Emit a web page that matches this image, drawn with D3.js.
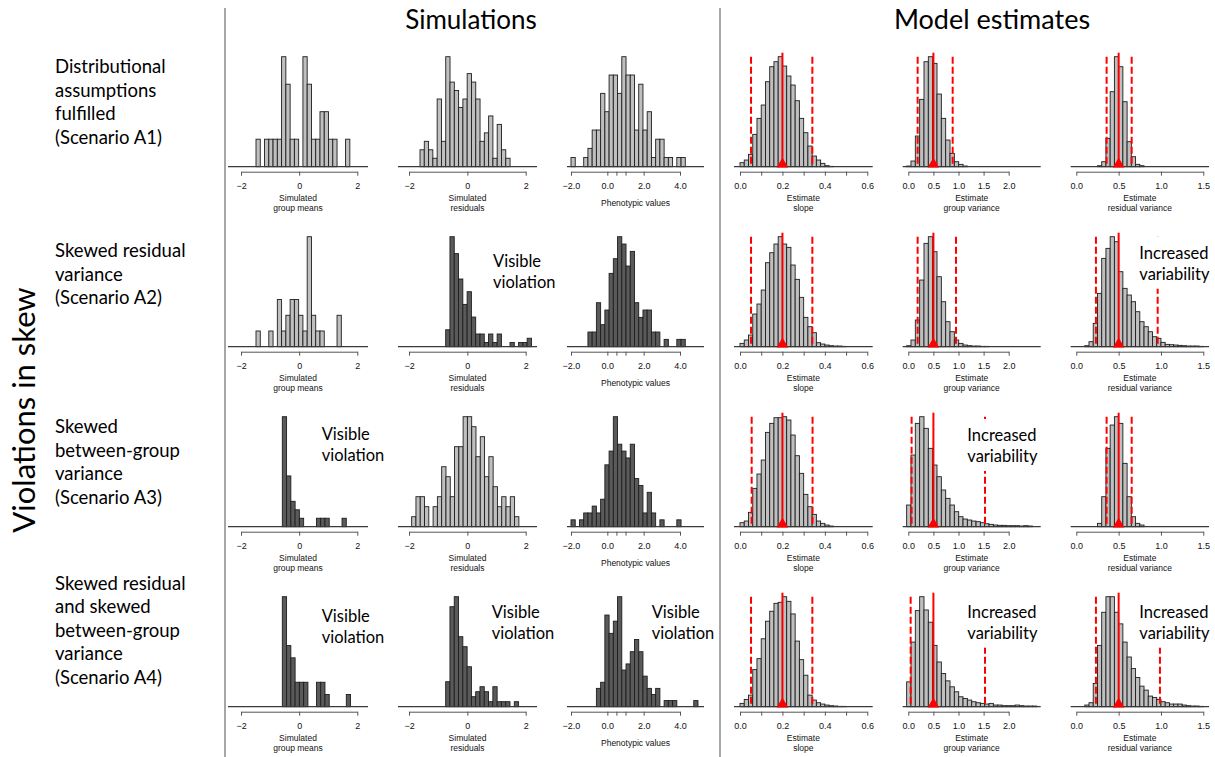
<!DOCTYPE html>
<html>
<head>
<meta charset="utf-8">
<script src="https://cdn.jsdelivr.net/npm/d3@7"></script>
<style>
body { margin: 0; background: #fff; }
svg { display: block; }
.lab { font-family: Lato, "Noto Sans", sans-serif; fill: #000; }
.ax text { font-family: "Liberation Sans", Arial, sans-serif; font-size: 9px; fill: #111; }
.ax path, .ax line { stroke: #555; }
.xt { font-family: "Liberation Sans", Arial, sans-serif; font-size: 8.5px; fill: #111; }
</style>
</head>
<body>
<svg id="chart" width="1215" height="757"></svg>
<script>
// ---------- data ----------
const rowLabels = [
  ["Distributional", "assumptions", "fulfilled", "(Scenario A1)"],
  ["Skewed residual", "variance", "(Scenario A2)"],
  ["Skewed", "between-group", "variance", "(Scenario A3)"],
  ["Skewed residual", "and skewed", "between-group", "variance", "(Scenario A4)"]
];
const blockTitles = ["Simulations", "Model estimates"];
const sideTitle = "Violations in skew";

const axisTitles = [
  ["Simulated", "group means"], ["Simulated", "residuals"], ["Phenotypic values"],
  ["Estimate", "slope"], ["Estimate", "group variance"], ["Estimate", "residual variance"]
];
const tickVals = [
  [-2, 0, 2], [-2, 0, 2], [-2, 0, 0.5, 1, 2, 4],
  [0, 0.1, 0.2, 0.3, 0.4, 0.5, 0.6], [0, 0.5, 1, 1.5, 2], [0, 0.5, 1, 1.5]
];
const tickText = [
  ["\u22122", "0", "2"], ["\u22122", "0", "2"], ["\u22122.0", "0.0", "", "", "2.0", "4.0"],
  ["0.0", "", "0.2", "", "0.4", "", "0.6"], ["0.0", "0.5", "1.0", "1.5", "2.0"], ["0.0", "0.5", "1.0", "1.5"]
];
const binWidth = [0.1467, 0.147, 0.233, 0.02, 0.0864, 0.05];

// simulated group means (counts), one array per scenario
const groupMeanCounts = [
  [1,0,1,1,1,1,4,3,1,1,0,4,3,1,1,2,2,1,1,0,0,1],
  [1,0,0,1,0,3,1,2,3,3,2,1,7,2,1,1,0,0,0,2],
  [13,6,3,2,1,0,0,0,1,1,1,0,0,0,1],
  [9,5,4,2,2,2,0,0,2,2,1,0,0,0,0,1]
];
const groupMeanStart = [-1.484, -1.484, -0.579, -0.579];

// simulated residuals
const residualCounts = [
  [2,3,2,1,8,3,13,10,9,7,8,11,10,8,3,4,6,1,5,2,1],
  [4,26,22,16,10,13,7,3,3,1,3,1,3,0,0,1,0,1,1,2],
  [1,3,3,2,0,2,3,6,5,3,8,8,11,11,10,7,9,5,7,4,2,3,2,3,1],
  [5,20,22,14,12,8,2,3,4,3,1,4,1,1,1,0,1]
];
const residualStart = [-1.623, -0.743, -1.909, -0.743];

// phenotypic values
const phenoCounts = [
  [1,0,0,1,2,4,4,8,6,10,10,8,12,10,10,4,9,4,6,1,3,3,1,1,0,1,1],
  [0,0,0,0,2,2,6,3,5,10,12,15,14,11,13,6,4,5,5,2,2,0,1,0,0,1,1],
  [1,0,1,2,2,3,2,4,9,11,16,12,11,10,12,7,6,2,5,2,0,1,0,0,0,1],
  [0,0,0,0,0,0,3,4,15,12,14,18,6,7,9,11,9,5,3,2,3,0,1,1,1,0,0,0,0,1]
];
const phenoStart = [-2, -2, -2, -2];

// model estimates (relative frequencies)
const slopeFreq = [
  [12,20,37,97,145,185,255,300,315,330,302,272,245,198,145,102,62,32,20,10,3,1],
  [10,20,35,98,128,170,252,282,308,330,308,298,245,202,148,88,60,42,12,8,5,3,2,2,1],
  [12,17,43,115,158,200,283,310,327,327,330,320,275,213,160,97,60,37,17,10,5,2],
  [10,22,35,112,145,205,258,288,312,315,332,318,280,198,142,95,35,20,12,8,5,3,2,1,1]
];
const groupVarFreq = [
  [2,17,92,202,315,330,310,218,145,80,40,15,7,2],
  [3,20,80,200,310,330,285,210,135,75,45,20,10,5,3,2,2,1,1],
  [65,215,310,330,295,235,185,150,110,85,65,45,30,23,20,17,15,12,9,7,5,4,4,3,3,3,2,3,2],
  [75,195,290,332,292,255,185,135,100,78,60,45,30,25,20,15,12,10,8,10,5,5,3,3,3,5,3,2,2,2]
];
const residVarFreq = [
  [0,0,0,0,0,3,15,85,225,330,300,195,75,30,7,3],
  [0,0,3,15,70,160,265,295,330,315,225,175,155,135,105,75,60,45,30,25,13,7,6,5,4,3,2,2,2,1],
  [0,0,0,0,0,10,90,235,305,330,310,190,90,30,10,5],
  [0,0,5,12,70,185,285,332,332,285,250,195,150,115,88,62,50,32,28,22,15,12,8,8,8,5,3,2,2,1]
];
const slopeStart = 0, groupVarStart = -0.033, residVarStart = 0;

const trueValues = [0.2, 0.5, 0.5];
const slopeCI = [[0.052, 0.341], [0.052, 0.341], [0.055, 0.342], [0.052, 0.341]];
const groupVarCI = [[0.186, 0.884], [0.186, 0.95], [0.066, 1.528], [0.047, 1.528]];
const residVarCI = [[0.358, 0.654], [0.232, 0.961], [0.358, 0.654], [0.232, 0.988]];

// which simulated panels show a visible violation (dark bars)
const violated = [
  [false, false, false],
  [false, true, true],
  [true, false, true],
  [true, true, true]
];
const notes = [
  { row: 1, col: 1, text: ["Visible", "violation"] },
  { row: 2, col: 0, text: ["Visible", "violation"] },
  { row: 3, col: 0, text: ["Visible", "violation"] },
  { row: 3, col: 1, text: ["Visible", "violation"] },
  { row: 3, col: 2, text: ["Visible", "violation"] },
  { row: 1, col: 5, text: ["Increased", "variability"] },
  { row: 2, col: 4, text: ["Increased", "variability"] },
  { row: 3, col: 4, text: ["Increased", "variability"] },
  { row: 3, col: 5, text: ["Increased", "variability"] }
];

// ---------- layout ----------
const cols = [
  { dom: [-2, 2],   x0: 241,   x1: 357.3,  left: 228,    right: 368 },
  { dom: [-2, 2],   x0: 409,   x1: 525.7,  left: 398,    right: 537 },
  { dom: [-2, 4],   x0: 571,   x1: 680,    left: 567,    right: 704 },
  { dom: [0, 0.6],  x0: 740,   x1: 867.3,  left: 734,    right: 872.7 },
  { dom: [0, 2],    x0: 908.3, x1: 1008.7, left: 902.7,  right: 1040.7 },
  { dom: [0, 1.5],  x0: 1076.3,x1: 1203.3, left: 1070.7, right: 1209 }
];
const rowBase = r => 166.7 + 180 * r;
const barMax = 110;
const labelTop = [66.7, 250.7, 426.7, 583.3];
const noteXY = {
  "1-1": [493, 260.5], "2-0": [321.7, 434.3], "3-0": [321.7, 616], "3-1": [491.7, 612.3],
  "3-2": [651.7, 611.7], "1-5": [1139.3, 252.7], "2-4": [967.3, 435], "3-4": [967.3, 611.7],
  "3-5": [1139.3, 611.7]
};
const LIGHT = "#bfbfbf", DARK = "#5a5a5a", RED = "#ff0000";

const svg = d3.select("#chart");

// separators
[225, 720].forEach(x => svg.append("line")
  .attr("x1", x).attr("x2", x).attr("y1", 8).attr("y2", 757)
  .attr("stroke", "#8a8a8a").attr("stroke-width", 1.5));

// titles
svg.append("text").attr("class", "lab").attr("x", 471).attr("y", 29)
  .attr("text-anchor", "middle").attr("font-size", 26).text(blockTitles[0]);
svg.append("text").attr("class", "lab").attr("x", 992).attr("y", 29)
  .attr("text-anchor", "middle").attr("font-size", 27).text(blockTitles[1]);
svg.append("text").attr("class", "lab").attr("transform", "translate(35,410) rotate(-90)")
  .attr("text-anchor", "middle").attr("font-size", 31).text(sideTitle);

// row labels
rowLabels.forEach((lines, r) => {
  const t = svg.append("text").attr("class", "lab").attr("font-size", 18.5);
  lines.forEach((s, i) => t.append("tspan").attr("x", 55)
    .attr("y", labelTop[r] + 6.6 + i * 23.5).text(s));
});

function panel(r, c, counts, start, fill) {
  const col = cols[c];
  const base = rowBase(r);
  const x = d3.scaleLinear().domain(col.dom).range([col.x0, col.x1]);
  const y = d3.scaleLinear().domain([0, d3.max(counts)]).range([base, base - barMax]);
  const g = svg.append("g");
  const w = binWidth[c];
  const bins = counts.map((n, i) => ({ n, a: start + i * w, b: start + (i + 1) * w }))
    .filter(d => d.n > 0);
  g.selectAll("rect").data(bins).join("rect")
    .attr("x", d => x(d.a)).attr("width", d => x(d.b) - x(d.a))
    .attr("y", d => y(d.n)).attr("height", d => base - y(d.n))
    .attr("fill", fill).attr("stroke", "#1e1e1e").attr("stroke-width", 0.9);
  g.append("line").attr("x1", col.left).attr("x2", col.right)
    .attr("y1", base).attr("y2", base).attr("stroke", "#3a3a3a").attr("stroke-width", 1.2);
  const axis = d3.axisBottom(x).tickValues(tickVals[c])
    .tickFormat((d, i) => tickText[c][i]).tickSize(4).tickSizeOuter(0).tickPadding(7);
  g.append("g").attr("class", "ax").attr("transform", `translate(0,${base + 5})`).call(axis);
  const lines = axisTitles[c];
  const cx = (col.left + col.right) / 2;
  lines.forEach((s, i) => g.append("text").attr("class", "xt").attr("text-anchor", "middle")
    .attr("x", cx).attr("y", base + (lines.length === 1 ? 39 : 34 + i * 10)).text(s));
  return { g, x, base };
}

function estimates(r, c, freq, start, ci, truth) {
  const p = panel(r, c, freq, start, LIGHT);
  ci.forEach(v => p.g.append("line").attr("x1", p.x(v)).attr("x2", p.x(v))
    .attr("y1", p.base - barMax).attr("y2", p.base)
    .attr("stroke", RED).attr("stroke-width", 2).attr("stroke-dasharray", "7,3"));
  p.g.append("line").attr("x1", p.x(truth)).attr("x2", p.x(truth))
    .attr("y1", p.base - 114).attr("y2", p.base).attr("stroke", RED).attr("stroke-width", 2);
  p.g.append("path").attr("d", d3.symbol().type(d3.symbolTriangle).size(58)())
    .attr("transform", `translate(${p.x(truth)},${p.base - 2.6})`).attr("fill", RED);
}

for (let r = 0; r < 4; r++) {
  panel(r, 0, groupMeanCounts[r], groupMeanStart[r], violated[r][0] ? DARK : LIGHT);
  panel(r, 1, residualCounts[r], residualStart[r], violated[r][1] ? DARK : LIGHT);
  panel(r, 2, phenoCounts[r], phenoStart[r], violated[r][2] ? DARK : LIGHT);
  estimates(r, 3, slopeFreq[r], slopeStart, slopeCI[r], trueValues[0]);
  estimates(r, 4, groupVarFreq[r], groupVarStart, groupVarCI[r], trueValues[1]);
  estimates(r, 5, residVarFreq[r], residVarStart, residVarCI[r], trueValues[2]);
}

// annotations on white boxes
notes.forEach(n => {
  const [nx, ny] = noteXY[n.row + "-" + n.col];
  const g = svg.append("g");
  const box = g.append("rect").attr("fill", "#fff");
  const t = g.append("text").attr("class", "lab").attr("font-size", 16.5);
  n.text.forEach((s, i) => t.append("tspan").attr("x", nx).attr("y", ny + 6 + i * 21).text(s));
  const bb = t.node().getBBox();
  box.attr("x", bb.x - 2).attr("width", bb.width + 4)
    .attr("y", ny - 16).attr("height", 21 + 31);
});
</script>
</body>
</html>
